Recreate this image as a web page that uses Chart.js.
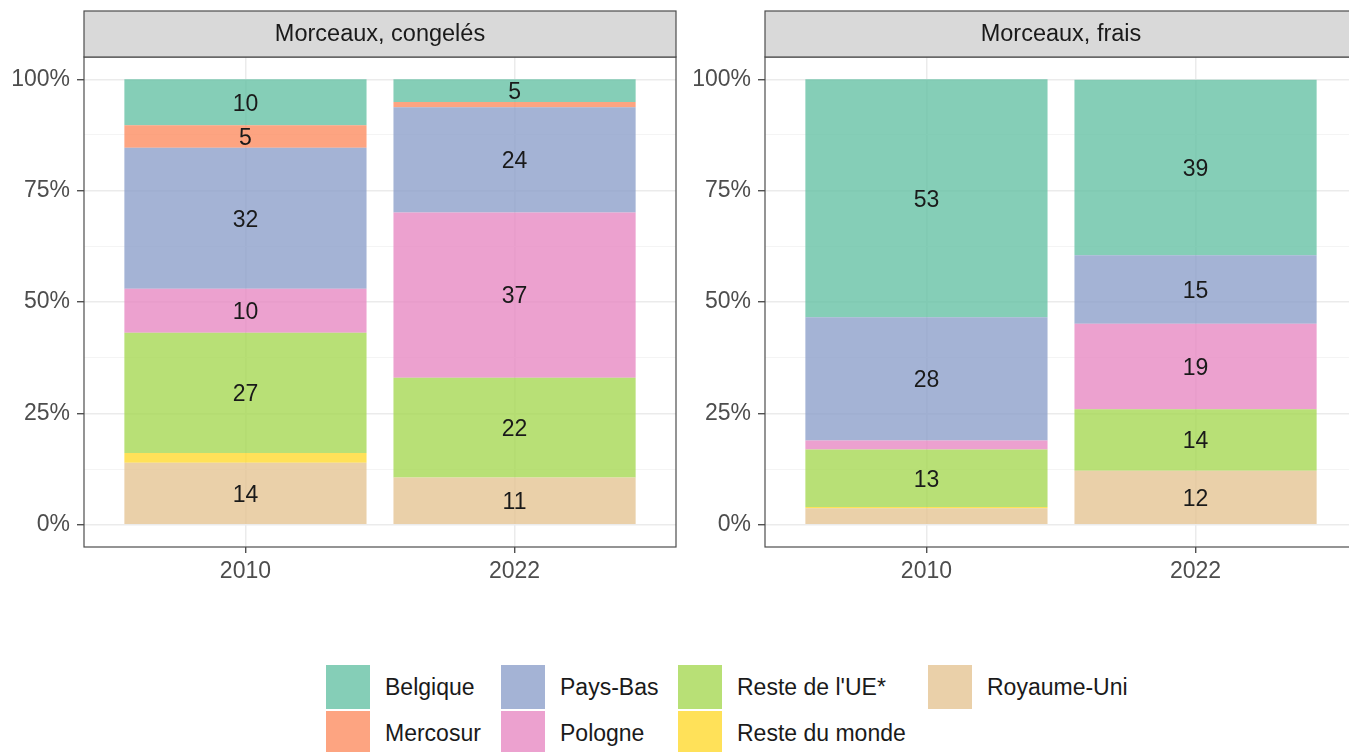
<!DOCTYPE html>
<html>
<head>
<meta charset="utf-8">
<script src="https://cdn.jsdelivr.net/npm/chart.js@4/dist/chart.umd.min.js"></script>
<style>
  body { margin: 0; background: #fff; overflow: hidden; font-family: "Liberation Sans", Arial, sans-serif; }
  #wrap { position: relative; width: 1349px; height: 752px; overflow: hidden; }
  canvas { position: absolute; top: 0; }
  #legende { position: absolute; left: 326px; top: 664px; display: grid; grid-auto-flow: column;
    grid-template-rows: repeat(2, 46px); grid-template-columns: 175px 177px 250px auto; }
  .item { display: flex; align-items: center; font-size: 23px; color: #1a1a1a; white-space: nowrap; }
  .cle { width: 44px; height: 44px; margin-right: 15px; }
</style>
</head>
<body>
<div id="wrap">
  <canvas id="graf1" width="690" height="600" style="left:0"></canvas>
  <canvas id="graf2" width="690" height="600" style="left:681px"></canvas>
  <div id="legende"></div>
</div>
<script>
const annees = ["2010", "2022"];
const panneaux = ["Morceaux, congelés", "Morceaux, frais"];
const origines = ["Belgique", "Mercosur", "Pays-Bas", "Pologne", "Reste de l'UE*", "Reste du monde", "Royaume-Uni"];
const couleurs = [
  "rgba(102, 194, 165, 0.8)",
  "rgba(252, 141, 98, 0.8)",
  "rgba(141, 160, 203, 0.8)",
  "rgba(231, 138, 195, 0.8)",
  "rgba(166, 216, 84, 0.8)",
  "rgba(255, 217, 47, 0.8)",
  "rgba(229, 196, 148, 0.8)",
];

// parts en %, dans l'ordre des origines
const congeles2010 = [10.3, 5.1, 31.6, 9.9, 27.0, 2.2, 13.9];
const congeles2022 = [5.1, 1.2, 23.6, 37.1, 22.4, 0, 10.6];
const frais2010 = [53.4, 0, 27.7, 2.0, 12.9, 0.3, 3.7];
const frais2022 = [39.4, 0, 15.4, 19.2, 13.8, 0, 12.1];

const ticksY = [0, 12.5, 25, 37.5, 50, 62.5, 75, 87.5, 100];
const police = '"Liberation Sans", Arial, sans-serif';

// bandeau + cadre + etiquettes
const panneauPlugin = {
  id: "panneau",
  afterDatasetsDraw(chart, args, opts) {
    const ctx = chart.ctx;
    const a = chart.chartArea;
    ctx.save();
    // etiquettes des barres
    ctx.font = "23px " + police;
    ctx.fillStyle = "#1a1a1a";
    ctx.textAlign = "center";
    ctx.textBaseline = "middle";
    chart.data.datasets.forEach((ds, i) => {
      const meta = chart.getDatasetMeta(i);
      meta.data.forEach((bar, j) => {
        const v = Math.round(ds.data[j].y);
        if (v >= 5) {
          ctx.fillText(v, bar.x, (bar.y + bar.base) / 2 + 2);
        }
      });
    });
    // cadre
    ctx.strokeStyle = "#4d4d4d";
    ctx.lineWidth = 1.2;
    ctx.strokeRect(a.left, a.top, a.right - a.left, a.bottom - a.top);
    // bandeau
    ctx.fillStyle = "#d9d9d9";
    ctx.fillRect(a.left, 11, a.right - a.left, a.top - 11);
    ctx.strokeRect(a.left, 11, a.right - a.left, a.top - 11);
    ctx.fillStyle = "#1a1a1a";
    ctx.font = "23.5px " + police;
    ctx.fillText(opts.titre, (a.left + a.right) / 2, (11 + a.top) / 2 + 1);
    ctx.restore();
  },
};

function creerGraf(id, titre, v2010, v2022) {
  const datasets = [];
  for (let i = origines.length - 1; i >= 0; i--) {
    datasets.push({
      label: origines[i],
      data: [
        { x: 1, y: v2010[i] },
        { x: 2, y: v2022[i] },
      ],
      backgroundColor: couleurs[i],
      borderWidth: 0,
      barPercentage: 0.9,
      categoryPercentage: 1,
    });
  }
  const canvas = document.getElementById(id);
  return new Chart(canvas.getContext("2d"), {
    type: "bar",
    data: { datasets: datasets },
    options: {
      responsive: false,
      animation: false,
      layout: { padding: { top: 57, right: 14, left: 0, bottom: 0 } },
      plugins: {
        legend: { display: false },
        tooltip: { enabled: false },
        panneau: { titre: titre },
      },
      scales: {
        x: {
          type: "linear",
          stacked: true,
          offset: false,
          min: 0.4,
          max: 2.6,
          afterBuildTicks: (s) => { s.ticks = [{ value: 1 }, { value: 2 }]; },
          afterFit: (s) => { s.height = 53; },
          border: { display: false },
          grid: { offset: false, color: "#ebebeb", lineWidth: 1.5, tickLength: 6, tickColor: "#333", tickWidth: 1.2 },
          ticks: {
            callback: (v) => annees[v - 1],
            color: "#4d4d4d",
            font: { size: 23, family: police },
            padding: 5,
            maxRotation: 0,
            autoSkip: false,
          },
        },
        y: {
          stacked: true,
          min: -5,
          max: 105,
          afterBuildTicks: (s) => { s.ticks = ticksY.map((v) => ({ value: v })); },
          afterFit: (s) => { s.width = 84; },
          border: { display: false },
          grid: {
            color: (c) => (c.tick.value % 25 === 0 ? "#ebebeb" : "#f4f4f4"),
            lineWidth: (c) => (c.tick.value % 25 === 0 ? 1.5 : 1),
            tickLength: 7,
            tickColor: (c) => (c.tick.value % 25 === 0 ? "#333" : "rgba(0,0,0,0)"),
            tickWidth: 1.2,
          },
          ticks: {
            callback: (v) => (v % 25 === 0 ? v + "%" : ""),
            color: "#4d4d4d",
            font: { size: 23, family: police },
            padding: 7,
          },
        },
      },
    },
    plugins: [panneauPlugin],
  });
}

creerGraf("graf1", panneaux[0], congeles2010, congeles2022);
creerGraf("graf2", panneaux[1], frais2010, frais2022);

// legende en colonnes
let html = "";
origines.forEach((o, i) => {
  html += `<div class="item"><div class="cle" style="background:${couleurs[i]}"></div>${o}</div>`;
});
document.getElementById("legende").innerHTML = html;
</script>
</body>
</html>
